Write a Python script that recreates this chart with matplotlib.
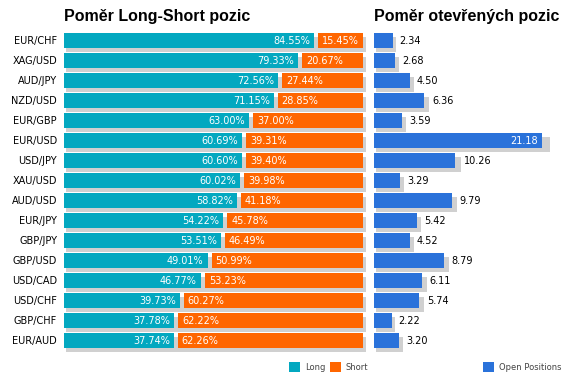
import matplotlib.pyplot as plt
from matplotlib.patches import Rectangle

pairs = ['EUR/CHF', 'XAG/USD', 'AUD/JPY', 'NZD/USD', 'EUR/GBP', 'EUR/USD', 'USD/JPY', 'XAU/USD',
         'AUD/USD', 'EUR/JPY', 'GBP/JPY', 'GBP/USD', 'USD/CAD', 'USD/CHF', 'GBP/CHF', 'EUR/AUD']
long_pct = [84.55, 79.33, 72.56, 71.15, 63.00, 60.69, 60.60, 60.02,
            58.82, 54.22, 53.51, 49.01, 46.77, 39.73, 37.78, 37.74]
short_pct = [15.45, 20.67, 27.44, 28.85, 37.00, 39.31, 39.40, 39.98,
             41.18, 45.78, 46.49, 50.99, 53.23, 60.27, 62.22, 62.26]
open_pos = [2.34, 2.68, 4.50, 6.36, 3.59, 21.18, 10.26, 3.29,
            9.79, 5.42, 4.52, 8.79, 6.11, 5.74, 2.22, 3.20]

c_long = '#03a8c0'
c_short = '#ff6600'
c_open = '#2a72da'
c_shadow = '#d0d0d0'

W, H = 571, 383
fig = plt.figure(figsize=(W / 100, H / 100), dpi=100)

bh = 0.75          # bar height (rows are 20 px apart)
sdy = 0.2          # shadow offset down

# left panel: long / short
ax1 = fig.add_axes([64 / W, 1 - 352 / H, 299 / W, 322 / H])
ax1.set_xlim(0, 100)
ax1.set_ylim(15.55, -0.55)
px = 100 / 299
for i, (lv, sv) in enumerate(zip(long_pct, short_pct)):
    y = i - 0.4
    ax1.add_patch(Rectangle((2 * px, y + sdy), 100 + px, bh, color=c_shadow, lw=0, clip_on=False))
    ax1.add_patch(Rectangle((0, y), lv - 3 * px, bh, color=c_long, lw=0))
    ax1.add_patch(Rectangle((lv + px, y), 100 - lv - px, bh, color=c_short, lw=0, clip_on=False))
    ax1.text(lv - 7 * px, i - 0.02, '%.2f%%' % lv, color='white', fontsize=7, ha='right', va='center')
    ax1.text(lv + 5 * px, i - 0.02, '%.2f%%' % sv, color='white', fontsize=7, ha='left', va='center')
    ax1.text(-7 * px, i - 0.02, pairs[i], color='black', fontsize=7, ha='right', va='center')
ax1.axis('off')
fig.text(64 / W, 1 - 16 / H, 'Poměr Long-Short pozic', fontsize=11.5, fontweight='bold',
         family='Liberation Sans', va='center')

# right panel: open positions
ppu = 7.92
ax2 = fig.add_axes([374 / W, 1 - 352 / H, 197 / W, 322 / H])
ax2.set_xlim(0, 197 / ppu)
ax2.set_ylim(15.55, -0.55)
for i, v in enumerate(open_pos):
    y = i - 0.4
    ax2.add_patch(Rectangle((2 / ppu, y + sdy), v * 1.03 + 1 / ppu, bh, color=c_shadow, lw=0))
    ax2.add_patch(Rectangle((0, y), v, bh, color=c_open, lw=0))
    if v > 15:
        ax2.text(v - 4 / ppu, i - 0.02, '%.2f' % v, color='white', fontsize=7, ha='right', va='center')
    else:
        ax2.text(v * 1.03 + 6 / ppu, i - 0.02, '%.2f' % v, color='black', fontsize=7, ha='left', va='center')
ax2.axis('off')
fig.text(374 / W, 1 - 16 / H, 'Poměr otevřených pozic', fontsize=11.5, fontweight='bold',
         family='Liberation Sans', va='center')

# legends
def legend_item(x, label, color):
    fig.patches.append(Rectangle((x / W, 1 - 372 / H), 11 / W, 10 / H, color=color, lw=0,
                                 transform=fig.transFigure, figure=fig))
    fig.text((x + 16) / W, 1 - 367 / H, label, fontsize=6, color='#444444', va='center')

legend_item(289, 'Long', c_long)
legend_item(330, 'Short', c_short)
legend_item(483, 'Open Positions', c_open)

fig.savefig('out.png', dpi=100)
